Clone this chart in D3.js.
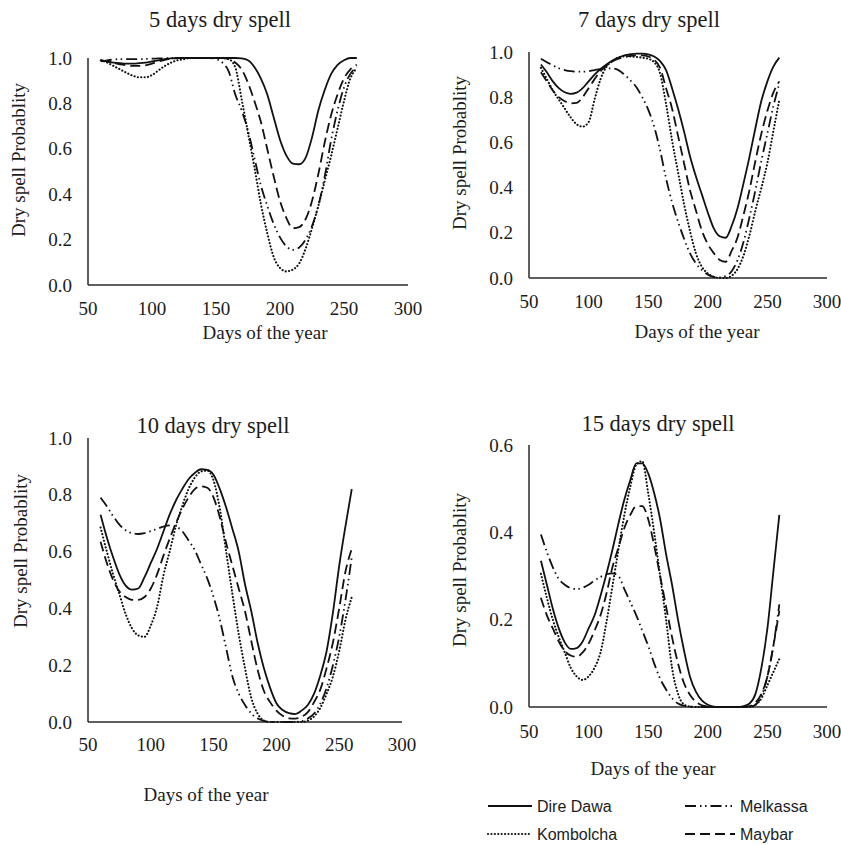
<!DOCTYPE html>
<html>
<head>
<meta charset="utf-8">
<script src="https://cdn.jsdelivr.net/npm/d3@7"></script>
<style>
    body { margin: 0; background: #ffffff; }
    #chart text { font-family: "Liberation Serif", "Times New Roman", serif; fill: #1c1c1c; }
    #chart .legend text { font-family: "Liberation Sans", Arial, sans-serif; }
</style>
</head>
<body>
<div id="chart"></div>
<script>

// days of the year (x values shared by every curve)
const days = [60, 65, 70, 75, 80, 85, 90, 95, 100, 105, 110, 115, 120, 125, 130, 135, 140, 145, 150, 155,
    160, 165, 170, 175, 180, 185, 190, 195, 200, 205, 210, 215, 220, 225, 230, 235, 240, 245, 250, 255, 260];

const stations = ["Dire Dawa", "Kombolcha", "Melkassa", "Maybar"];
const xTicks = [50, 100, 150, 200, 250, 300];

// 5 days dry spell
const direDawa5 = [0.99, 0.985, 0.98, 0.977, 0.975, 0.975, 0.977, 0.98, 0.985, 0.99, 0.995, 0.998, 1, 1, 1, 1, 1, 1, 1, 1,
    1, 1, 0.998, 0.99, 0.96, 0.91, 0.84, 0.74, 0.64, 0.57, 0.535, 0.532, 0.56, 0.65, 0.77, 0.86, 0.93, 0.97, 0.99, 1, 1];
const kombolcha5 = [0.99, 0.98, 0.965, 0.95, 0.935, 0.922, 0.915, 0.915, 0.925, 0.945, 0.965, 0.98, 0.99, 0.995, 1, 1, 1, 1, 1, 1,
    0.995, 0.96, 0.82, 0.67, 0.52, 0.36, 0.23, 0.125, 0.075, 0.06, 0.068, 0.095, 0.16, 0.25, 0.35, 0.46, 0.57, 0.69, 0.81, 0.91, 0.955];
const melkassa5 = [0.985, 0.99, 0.993, 0.995, 0.995, 0.995, 0.995, 0.996, 0.997, 0.998, 0.999, 1, 1, 1, 1, 1, 1, 1, 0.995, 0.98,
    0.94, 0.84, 0.77, 0.68, 0.56, 0.44, 0.35, 0.27, 0.21, 0.17, 0.155, 0.165, 0.2, 0.26, 0.35, 0.48, 0.64, 0.77, 0.87, 0.93, 0.96];
const maybar5 = [0.99, 0.985, 0.978, 0.972, 0.968, 0.965, 0.965, 0.968, 0.975, 0.985, 0.992, 0.997, 1, 1, 1, 1, 1, 1, 1, 1,
    0.995, 0.98, 0.95, 0.89, 0.81, 0.72, 0.6, 0.48, 0.37, 0.295, 0.25, 0.255, 0.29, 0.37, 0.49, 0.63, 0.75, 0.84, 0.91, 0.95, 0.97];

// 7 days dry spell
const direDawa7 = [0.945, 0.91, 0.87, 0.84, 0.822, 0.815, 0.82, 0.84, 0.87, 0.9, 0.925, 0.945, 0.962, 0.975, 0.985, 0.99, 0.993, 0.993, 0.99, 0.98,
    0.96, 0.92, 0.84, 0.75, 0.65, 0.54, 0.45, 0.37, 0.29, 0.22, 0.185, 0.178, 0.23, 0.31, 0.42, 0.537, 0.665, 0.785, 0.87, 0.935, 0.975];
const kombolcha7 = [0.93, 0.88, 0.83, 0.79, 0.75, 0.71, 0.68, 0.67, 0.69, 0.79, 0.88, 0.935, 0.96, 0.975, 0.98, 0.98, 0.978, 0.975, 0.97, 0.955,
    0.905, 0.77, 0.61, 0.47, 0.33, 0.21, 0.11, 0.05, 0.02, 0.005, 0, 0, 0.01, 0.04, 0.1, 0.19, 0.3, 0.4, 0.51, 0.65, 0.79];
const melkassa7 = [0.97, 0.955, 0.94, 0.928, 0.92, 0.915, 0.913, 0.913, 0.915, 0.92, 0.925, 0.928, 0.927, 0.92, 0.9, 0.875, 0.845, 0.8, 0.745, 0.67,
    0.565, 0.44, 0.335, 0.25, 0.175, 0.11, 0.065, 0.035, 0.015, 0.005, 0.003, 0.008, 0.03, 0.08, 0.16, 0.27, 0.39, 0.52, 0.64, 0.76, 0.86];
const maybar7 = [0.91, 0.87, 0.83, 0.8, 0.782, 0.773, 0.775, 0.8, 0.84, 0.88, 0.915, 0.94, 0.958, 0.97, 0.978, 0.983, 0.985, 0.985, 0.98, 0.965,
    0.93, 0.84, 0.75, 0.63, 0.51, 0.39, 0.3, 0.21, 0.15, 0.11, 0.08, 0.072, 0.12, 0.18, 0.28, 0.39, 0.52, 0.64, 0.74, 0.82, 0.87];

// 10 days dry spell
const direDawa10 = [0.73, 0.65, 0.58, 0.52, 0.48, 0.466, 0.47, 0.51, 0.56, 0.61, 0.67, 0.73, 0.78, 0.82, 0.855, 0.877, 0.89, 0.888, 0.87, 0.82,
    0.755, 0.68, 0.6, 0.485, 0.39, 0.28, 0.19, 0.12, 0.066, 0.042, 0.031, 0.028, 0.04, 0.06, 0.1, 0.165, 0.25, 0.385, 0.55, 0.69, 0.82];
const kombolcha10 = [0.685, 0.6, 0.52, 0.45, 0.38, 0.33, 0.305, 0.3, 0.34, 0.405, 0.515, 0.6, 0.69, 0.76, 0.82, 0.86, 0.882, 0.885, 0.85, 0.75,
    0.6, 0.45, 0.31, 0.19, 0.085, 0.03, 0.005, 0, 0, 0, 0, 0, 0, 0.005, 0.02, 0.05, 0.1, 0.16, 0.25, 0.36, 0.44];
const melkassa10 = [0.79, 0.76, 0.725, 0.695, 0.675, 0.665, 0.662, 0.665, 0.672, 0.68, 0.688, 0.692, 0.688, 0.672, 0.64, 0.605, 0.555, 0.505, 0.44, 0.36,
    0.26, 0.16, 0.1, 0.06, 0.03, 0.012, 0.004, 0, 0, 0, 0, 0, 0.003, 0.012, 0.03, 0.065, 0.12, 0.2, 0.3, 0.43, 0.58];
const maybar10 = [0.635, 0.56, 0.5, 0.46, 0.44, 0.43, 0.43, 0.44, 0.47, 0.52, 0.585, 0.645, 0.7, 0.75, 0.79, 0.82, 0.83, 0.825, 0.79, 0.72,
    0.63, 0.55, 0.47, 0.39, 0.285, 0.185, 0.11, 0.07, 0.04, 0.022, 0.013, 0.012, 0.018, 0.035, 0.07, 0.115, 0.19, 0.28, 0.4, 0.53, 0.61];

// 15 days dry spell
const direDawa15 = [0.335, 0.28, 0.225, 0.18, 0.148, 0.133, 0.135, 0.15, 0.18, 0.21, 0.255, 0.305, 0.36, 0.42, 0.475, 0.52, 0.558, 0.558, 0.535, 0.49,
    0.43, 0.35, 0.28, 0.2, 0.13, 0.07, 0.035, 0.015, 0.005, 0.001, 0, 0, 0, 0, 0.002, 0.008, 0.03, 0.09, 0.18, 0.31, 0.44];
const kombolcha15 = [0.305, 0.25, 0.2, 0.16, 0.125, 0.09, 0.07, 0.062, 0.07, 0.09, 0.125, 0.195, 0.277, 0.36, 0.44, 0.505, 0.555, 0.563, 0.49, 0.4,
    0.3, 0.2, 0.09, 0.03, 0.006, 0.001, 0, 0, 0, 0, 0, 0, 0, 0, 0, 0, 0.005, 0.02, 0.05, 0.08, 0.11];
const melkassa15 = [0.395, 0.355, 0.32, 0.293, 0.28, 0.272, 0.27, 0.273, 0.28, 0.29, 0.298, 0.304, 0.306, 0.3, 0.27, 0.24, 0.21, 0.175, 0.14, 0.1,
    0.065, 0.04, 0.02, 0.008, 0.003, 0.001, 0, 0, 0, 0, 0, 0, 0, 0, 0, 0, 0.005, 0.025, 0.07, 0.14, 0.235];
const maybar15 = [0.25, 0.21, 0.18, 0.15, 0.128, 0.118, 0.115, 0.125, 0.145, 0.175, 0.21, 0.26, 0.32, 0.365, 0.41, 0.44, 0.46, 0.46, 0.43, 0.37,
    0.3, 0.23, 0.16, 0.1, 0.055, 0.028, 0.012, 0.004, 0.001, 0, 0, 0, 0, 0, 0, 0.002, 0.01, 0.03, 0.07, 0.14, 0.22];

// line style per station
const dashes = {
    "Dire Dawa": null,
    "Kombolcha": "0.1 3.3",
    "Melkassa": "11 4 1.5 3.5 1.5 4",
    "Maybar": "10 5"
};
const caps = {"Dire Dawa": "butt", "Kombolcha": "round", "Melkassa": "butt", "Maybar": "butt"};


class DrySpellVis {

    constructor(svg, title, series, yTicks, layout) {
        this.svg = svg;
        this.title = title;
        this.series = series;
        this.yTicks = yTicks;
        this.layout = layout;
        this.initVis();
    }

    initVis() {
        let vis = this;
        let L = vis.layout;

        vis.g = vis.svg.append("g");

        vis.x = d3.scaleLinear()
            .domain([50, 300])
            .range([L.left, L.right]);

        vis.y = d3.scaleLinear()
            .domain([0, d3.max(vis.yTicks)])
            .range([L.bottom, L.top]);

        // axis lines, no tick marks
        vis.g.append("line")
            .attr("x1", L.left).attr("x2", L.left)
            .attr("y1", L.top).attr("y2", L.bottom)
            .attr("stroke", "#2a2a2a").attr("stroke-width", 1.5);
        vis.g.append("line")
            .attr("x1", L.left).attr("x2", L.right)
            .attr("y1", L.bottom).attr("y2", L.bottom)
            .attr("stroke", "#2a2a2a").attr("stroke-width", 1.5);

        // y tick labels
        vis.g.selectAll(".ytick")
            .data(vis.yTicks)
            .enter()
            .append("text")
            .attr("class", "ytick")
            .attr("x", L.left - 16)
            .attr("y", d => vis.y(d))
            .attr("dy", "0.35em")
            .attr("text-anchor", "end")
            .attr("font-size", 19)
            .text(d => d.toFixed(1));

        // x tick labels
        vis.g.selectAll(".xtick")
            .data(xTicks)
            .enter()
            .append("text")
            .attr("class", "xtick")
            .attr("x", d => vis.x(d))
            .attr("y", L.tickBase)
            .attr("text-anchor", "middle")
            .attr("font-size", 19)
            .text(d => d);

        // title
        vis.g.append("text")
            .attr("x", L.titleX)
            .attr("y", L.titleY)
            .attr("text-anchor", "middle")
            .attr("font-size", 22.5)
            .text(vis.title);

        // x axis label
        vis.g.append("text")
            .attr("x", L.xLabX)
            .attr("y", L.xLabY)
            .attr("text-anchor", "middle")
            .attr("font-size", 19)
            .text("Days of the year");

        // y axis label
        vis.g.append("text")
            .attr("transform", "translate(" + L.yLabX + "," + L.yLabY + ") rotate(-90)")
            .attr("dy", "0.35em")
            .attr("text-anchor", "middle")
            .attr("font-size", 19)
            .text("Dry spell Probablity");

        vis.wrangleData();
    }

    wrangleData() {
        let vis = this;
        vis.lines = stations.map((name, i) => ({
            name: name,
            values: days.map((d, j) => [d, vis.series[i][j]])
        }));
        vis.updateVis();
    }

    updateVis() {
        let vis = this;

        vis.line = d3.line()
            .x(d => vis.x(d[0]))
            .y(d => vis.y(d[1]))
            .curve(d3.curveMonotoneX);

        vis.g.selectAll(".station-line")
            .data(vis.lines)
            .enter()
            .append("path")
            .attr("class", "station-line")
            .attr("fill", "none")
            .attr("stroke", "#111")
            .attr("stroke-width", d => d.name === "Kombolcha" ? 2.1 : 1.8)
            .attr("stroke-linecap", d => caps[d.name])
            .attr("stroke-dasharray", d => dashes[d.name])
            .attr("d", d => vis.line(d.values));
    }
}


let svg = d3.select("#chart").append("svg")
    .attr("width", 841)
    .attr("height", 845);

new DrySpellVis(svg, "5 days dry spell", [direDawa5, kombolcha5, melkassa5, maybar5], [0, 0.2, 0.4, 0.6, 0.8, 1.0],
    {left: 88, right: 408, top: 58, bottom: 285, tickBase: 315, titleX: 220, titleY: 27,
        xLabX: 265, xLabY: 339, yLabX: 18, yLabY: 160});

new DrySpellVis(svg, "7 days dry spell", [direDawa7, kombolcha7, melkassa7, maybar7], [0, 0.2, 0.4, 0.6, 0.8, 1.0],
    {left: 529, right: 827, top: 52, bottom: 278, tickBase: 308, titleX: 649, titleY: 27,
        xLabX: 697, xLabY: 338, yLabX: 459, yLabY: 153});

new DrySpellVis(svg, "10 days dry spell", [direDawa10, kombolcha10, melkassa10, maybar10], [0, 0.2, 0.4, 0.6, 0.8, 1.0],
    {left: 88, right: 402, top: 438, bottom: 722, tickBase: 751, titleX: 213, titleY: 433,
        xLabX: 206, xLabY: 801, yLabX: 20, yLabY: 551});

new DrySpellVis(svg, "15 days dry spell", [direDawa15, kombolcha15, melkassa15, maybar15], [0, 0.2, 0.4, 0.6],
    {left: 529, right: 827, top: 445, bottom: 707, tickBase: 738, titleX: 658, titleY: 431,
        xLabX: 653, xLabY: 775, yLabX: 459, yLabY: 570});

// legend
let legend = svg.append("g").attr("class", "legend");

let legendItems = [
    {name: "Dire Dawa", x: 488, y: 806},
    {name: "Melkassa", x: 685, y: 806},
    {name: "Kombolcha", x: 488, y: 834},
    {name: "Maybar", x: 685, y: 834}
];

legendItems.forEach(item => {
    legend.append("line")
        .attr("x1", item.x)
        .attr("x2", item.x + (item.x > 600 ? 50 : 44))
        .attr("y1", item.y)
        .attr("y2", item.y)
        .attr("stroke", "#111")
        .attr("stroke-width", item.name === "Kombolcha" ? 2.1 : 1.8)
        .attr("stroke-linecap", caps[item.name])
        .attr("stroke-dasharray", dashes[item.name]);
    legend.append("text")
        .attr("x", item.x + (item.x > 600 ? 55 : 49))
        .attr("y", item.y)
        .attr("dy", "0.35em")
        .attr("font-size", 16)
        .text(item.name);
});

</script>
</body>
</html>
